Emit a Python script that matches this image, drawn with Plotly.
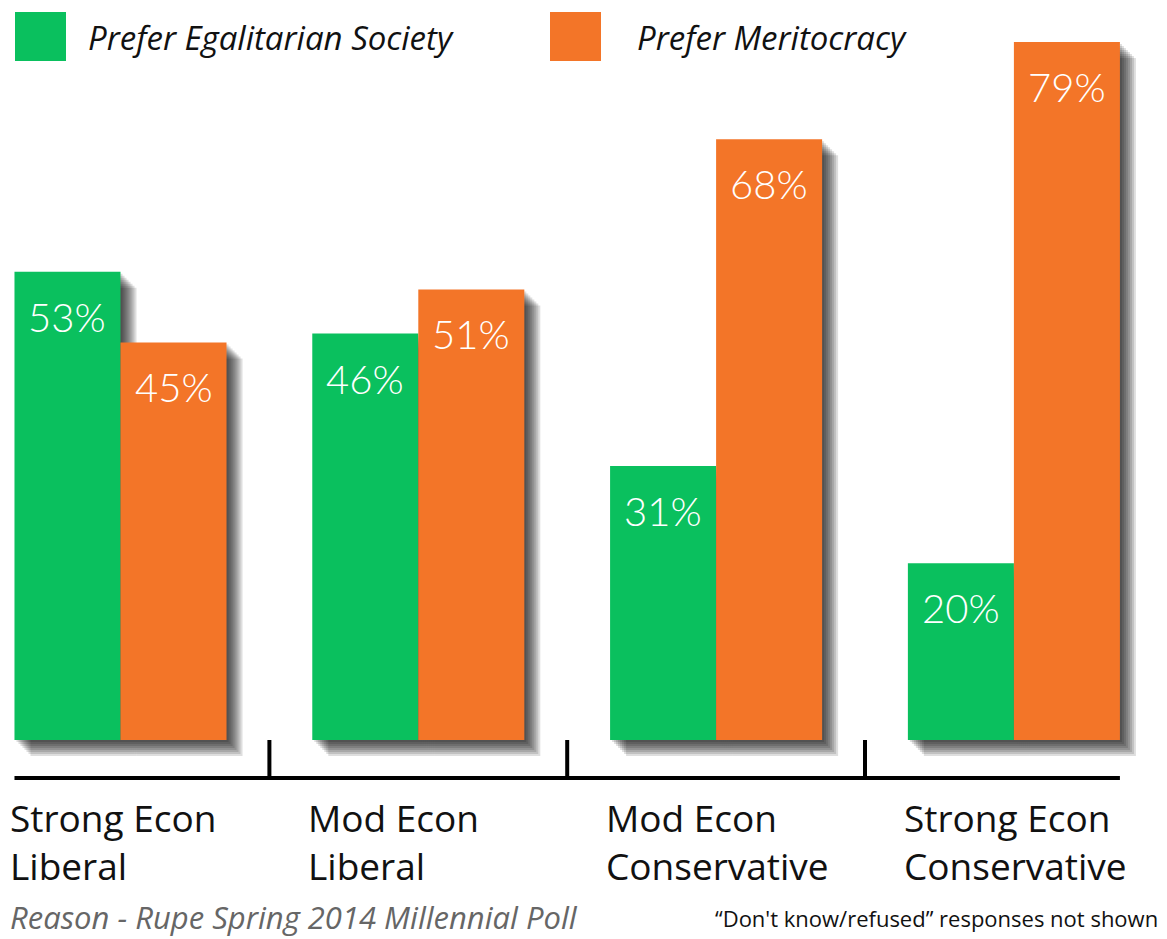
import plotly.graph_objects as go

# Reason-Rupe Spring 2014 Millennial Poll
categories = ["Strong Econ<br>Liberal", "Mod Econ<br>Liberal",
              "Mod Econ<br>Conservative", "Strong Econ<br>Conservative"]
series_names = ["Prefer Egalitarian Society", "Prefer Meritocracy"]
egalitarian = [53, 46, 31, 20]
meritocracy = [45, 51, 68, 79]

GREEN = "#0AC05E"
ORANGE = "#F37528"
FONT = "'Open Sans', Lato, sans-serif"
NUM_FONT = "Lato, 'Open Sans', sans-serif"

# the page body has an 8px margin, so the figure is drawn 8px in from the corner
PAGE_OFF = 8
W, H = 1167 - PAGE_OFF, 939 - PAGE_OFF
PLOT_BOTTOM = 781            # figure pixel row of the plot-area bottom
BASE_PX = 732                # figure pixel row of the bar baseline
PX_PER_CAT = 297.8           # pixels per category step
PX_PER_PCT = 8.835           # pixels per percentage point
BAR_W = 0.356                # bar width in category units
Y_MIN = -(PLOT_BOTTOM - BASE_PX) / PX_PER_PCT
Y_MAX = BASE_PX / PX_PER_PCT
AXIS_Y = -38 / PX_PER_PCT
X_MIN = -(120.5 - PAGE_OFF) / PX_PER_CAT
X_MAX = X_MIN + W / PX_PER_CAT


def px_x(p):
    return (p - PAGE_OFF) / W


def px_y(p):
    return (PLOT_BOTTOM - (p - PAGE_OFF)) / PLOT_BOTTOM


idx = list(range(len(categories)))
fig = go.Figure()

# soft drop shadows behind the bars
for values, off in [(egalitarian, -BAR_W / 2), (meritocracy, BAR_W / 2)]:
    for k in range(1, 9):
        d = 2 * k
        fig.add_trace(go.Bar(
            x=[i + off + d / PX_PER_CAT for i in idx],
            y=values,
            base=[-d / PX_PER_PCT] * len(values),
            width=BAR_W,
            marker={"color": "rgba(0,0,0,0.13)", "line": {"width": 0}},
            hoverinfo="skip",
            showlegend=False,
        ))

for values, off, color, name in [(egalitarian, -BAR_W / 2, GREEN, series_names[0]),
                                 (meritocracy, BAR_W / 2, ORANGE, series_names[1])]:
    fig.add_trace(go.Bar(
        x=[i + off for i in idx],
        y=values,
        width=BAR_W,
        name=name,
        marker={"color": color, "line": {"width": 0}},
        showlegend=False,
    ))
    for i, v in zip(idx, values):
        fig.add_annotation(
            x=i + off, y=v, yshift=-45, text=f"{v}%", showarrow=False,
            xanchor="center", yanchor="middle",
            font={"family": NUM_FONT, "size": 40, "color": "white", "weight": 300},
        )

# baseline and separators
shapes = [dict(type="line", xref="x", yref="y", x0=-BAR_W, x1=idx[-1] + BAR_W,
               y0=AXIS_Y, y1=AXIS_Y, line={"color": "black", "width": 4})]
for i in idx[:-1]:
    shapes.append(dict(type="line", xref="x", yref="y", x0=i + 0.5, x1=i + 0.5,
                       y0=0, y1=AXIS_Y, line={"color": "black", "width": 4}))

# legend swatches
for x0, color in [(15, GREEN), (550, ORANGE)]:
    shapes.append(dict(type="rect", xref="paper", yref="paper",
                       x0=px_x(x0), x1=px_x(x0 + 51), y0=px_y(61), y1=px_y(12),
                       fillcolor=color, line={"width": 0}))
for x0, name in [(86, series_names[0]), (635, series_names[1])]:
    fig.add_annotation(
        xref="paper", yref="paper", x=px_x(x0), y=px_y(38), text=f"<i>{name}</i>",
        showarrow=False, xanchor="left", yanchor="middle",
        font={"family": FONT, "size": 33, "color": "#111", "weight": 400},
    )

# category labels
for i, cat in zip(idx, categories):
    fig.add_annotation(
        x=i - BAR_W, xref="x", xshift=-6, yref="paper", y=px_y(790), text=cat,
        showarrow=False, xanchor="left", yanchor="top", align="left",
        font={"family": FONT, "size": 37, "color": "#111", "weight": 400},
    )

fig.add_annotation(
    xref="paper", yref="paper", x=px_x(8), y=px_y(917),
    text="<i>Reason - Rupe Spring 2014 Millennial Poll</i>", showarrow=False,
    xanchor="left", yanchor="middle",
    font={"family": FONT, "size": 31, "color": "#666", "weight": 400},
)
fig.add_annotation(
    xref="paper", yref="paper", x=px_x(1160), y=px_y(918),
    text="“Don't know/refused” responses not shown", showarrow=False,
    xanchor="right", yanchor="middle",
    font={"family": FONT, "size": 22, "color": "#111", "weight": 400},
)

fig.update_layout(
    width=W, height=H,
    margin={"l": 0, "r": 0, "t": 0, "b": H - PLOT_BOTTOM},
    barmode="overlay",
    plot_bgcolor="white", paper_bgcolor="white",
    xaxis={"range": [X_MIN, X_MAX], "visible": False, "fixedrange": True},
    yaxis={"range": [Y_MIN, Y_MAX], "visible": False, "fixedrange": True},
    shapes=shapes,
    showlegend=False,
)

fig.write_html("out.html")
